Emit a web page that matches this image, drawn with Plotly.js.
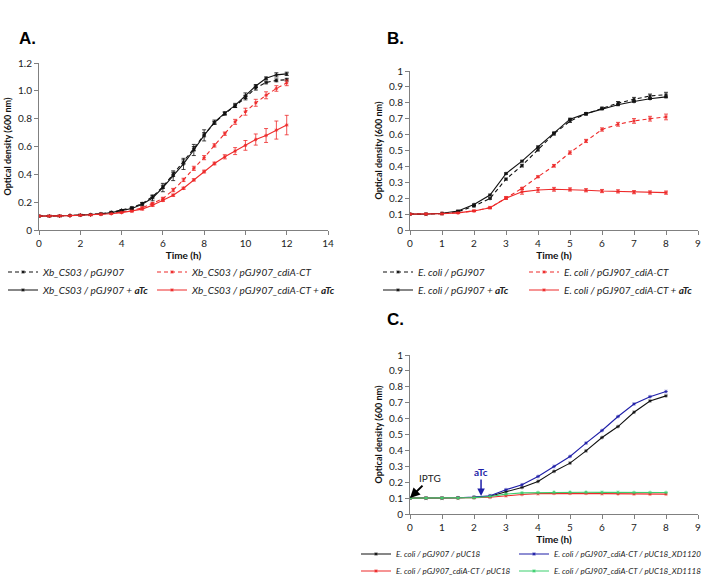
<!DOCTYPE html>
<html><head><meta charset="utf-8">
<script src="https://cdn.plot.ly/plotly-3.0.1.min.js"></script>
<style>html,body{margin:0;padding:0;background:#fff}#chart{width:707px;height:581px}</style>
</head><body><div id="chart"></div>
<script>
// ---------- Panel A data ----------
const timeA = [0,0.5,1,1.5,2,2.5,3,3.5,4,4.5,5,5.5,6,6.5,7,7.5,8,8.5,9,9.5,10,10.5,11,11.5,12];
const aBlackDash = [0.100,0.100,0.101,0.104,0.107,0.110,0.117,0.128,0.142,0.160,0.190,0.240,0.310,0.400,0.490,0.585,0.685,0.770,0.835,0.890,0.950,1.020,1.060,1.075,1.080];
const aBlackSolid = [0.100,0.100,0.101,0.104,0.107,0.110,0.115,0.125,0.140,0.155,0.185,0.230,0.305,0.390,0.475,0.575,0.680,0.775,0.840,0.895,0.965,1.035,1.090,1.115,1.122];
const aRedDash = [0.100,0.100,0.101,0.103,0.106,0.109,0.114,0.120,0.130,0.140,0.160,0.190,0.225,0.287,0.360,0.443,0.520,0.608,0.692,0.777,0.850,0.914,0.968,1.017,1.057];
const aRedSolid = [0.100,0.100,0.101,0.103,0.106,0.108,0.112,0.117,0.125,0.135,0.150,0.178,0.213,0.250,0.300,0.360,0.420,0.478,0.526,0.567,0.608,0.650,0.679,0.718,0.754];
const aErrBlackDash = [0,0,0,0,0,0,0.003,0.004,0.005,0.006,0.008,0.010,0.012,0.015,0.015,0.015,0.015,0.010,0.010,0.010,0.015,0.015,0.010,0.010,0.010];
const aErrBlackSolid = [0,0,0,0,0,0,0.003,0.004,0.005,0.008,0.010,0.020,0.030,0.035,0.040,0.040,0.040,0.015,0.010,0.015,0.020,0.010,0.010,0.015,0.012];
const aErrRedDash = [0,0,0,0,0,0,0.003,0.003,0.004,0.005,0.006,0.008,0.010,0.012,0.012,0.015,0.015,0.012,0.012,0.018,0.025,0.025,0.025,0.020,0.020];
const aErrRedSolid = [0,0,0,0,0,0,0.003,0.003,0.004,0.005,0.006,0.008,0.008,0.008,0.008,0.008,0.010,0.010,0.015,0.025,0.035,0.040,0.050,0.065,0.070];
const aNames = ['<i>Xb_CS03 / pGJ907</i>','<i>Xb_CS03 / pGJ907_cdiA-CT</i>','<i>Xb_CS03 / pGJ907 + <b>aTc</b></i>','<i>Xb_CS03 / pGJ907_cdiA-CT + <b>aTc</b></i>'];
const aYTickVals = [0,0.2,0.4,0.6,0.8,1.0,1.2];
const aYTickText = ['0','0.2','0.4','0.6','0.8','1.0','1.2'];
const aXTickVals = [0,2,4,6,8,10,12,14];

// ---------- Panel B data ----------
const timeB = [0,0.5,1,1.5,2,2.5,3,3.5,4,4.5,5,5.5,6,6.5,7,7.5,8];
const bBlackDash = [0.100,0.100,0.103,0.115,0.150,0.198,0.320,0.405,0.505,0.605,0.685,0.730,0.765,0.798,0.822,0.843,0.851];
const bBlackSolid = [0.100,0.100,0.105,0.120,0.160,0.220,0.355,0.433,0.523,0.611,0.697,0.732,0.762,0.788,0.808,0.826,0.837];
const bRedDash = [0.100,0.100,0.103,0.108,0.120,0.140,0.203,0.262,0.335,0.404,0.487,0.560,0.632,0.665,0.686,0.700,0.711];
const bRedSolid = [0.100,0.100,0.103,0.108,0.120,0.140,0.200,0.240,0.252,0.256,0.255,0.250,0.245,0.243,0.238,0.236,0.235];
const bErrBlackDash = [0,0,0,0.003,0.004,0.005,0.006,0.008,0.008,0.008,0.008,0.008,0.008,0.010,0.012,0.012,0.015];
const bErrBlackSolid = [0,0,0,0.003,0.004,0.005,0.005,0.005,0.005,0.005,0.005,0.005,0.005,0.005,0.005,0.005,0.005];
const bErrRedDash = [0,0,0,0,0.003,0.004,0.006,0.006,0.006,0.008,0.010,0.010,0.010,0.012,0.015,0.015,0.018];
const bErrRedSolid = [0,0,0,0,0.003,0.004,0.008,0.015,0.015,0.012,0.010,0.010,0.010,0.010,0.010,0.010,0.010];
const bNames = ['<i>E. coli / pGJ907</i>','<i>E. coli / pGJ907_cdiA-CT</i>','<i>E. coli / pGJ907 + <b>aTc</b></i>','<i>E. coli / pGJ907_cdiA-CT + <b>aTc</b></i>'];

// ---------- Panel C data ----------
const timeC = [0,0.5,1,1.5,2,2.5,3,3.5,4,4.5,5,5.5,6,6.5,7,7.5,8];
const cBlack = [0.100,0.100,0.100,0.102,0.105,0.112,0.140,0.167,0.205,0.268,0.320,0.397,0.481,0.550,0.640,0.711,0.743];
const cBlue = [0.100,0.100,0.100,0.102,0.106,0.115,0.153,0.184,0.236,0.299,0.362,0.446,0.525,0.613,0.692,0.738,0.770];
const cRed = [0.100,0.100,0.100,0.100,0.102,0.105,0.115,0.123,0.128,0.130,0.130,0.130,0.128,0.127,0.126,0.125,0.125];
const cGreen = [0.100,0.100,0.100,0.100,0.103,0.110,0.125,0.133,0.135,0.137,0.137,0.137,0.136,0.136,0.135,0.135,0.135];
const cNames = ['<i>E. coli / pGJ907 / pUC18</i>','<i>E. coli / pGJ907_cdiA-CT / pUC18_XD1120</i>','<i>E. coli / pGJ907_cdiA-CT / pUC18</i>','<i>E. coli / pGJ907_cdiA-CT / pUC18_XD1118</i>'];
const bcXTickVals = [0,1,2,3,4,5,6,7,8,9];
const bcYTickVals = [0,0.1,0.2,0.3,0.4,0.5,0.6,0.7,0.8,0.9,1];
const bcYTickText = ['0','0.1','0.2','0.3','0.4','0.5','0.6','0.7','0.8','0.9','1'];

const BLACK = '#111111', RED = '#ee2a2a', BLUE = '#1f1fa8', GREEN = '#3ccf6e';
const DASH = '4px,3px';

function tr(x, y, err, name, color, dash, xa, ya, leg) {
  const t = {
    x: x, y: y, name: name, type: 'scatter', mode: 'lines+markers',
    xaxis: xa, yaxis: ya, legend: leg,
    line: {color: color, width: 1.1, dash: dash},
    marker: {symbol: 'asterisk-open', size: 3, color: color, line: {color: color, width: 0.8}}
  };
  if (err) t.error_y = {type: 'data', array: err, visible: true, color: color, thickness: 0.8, width: 2};
  return t;
}

const data = [
  tr(timeA, aBlackDash, aErrBlackDash, aNames[0], BLACK, DASH, 'x', 'y', 'legend'),
  tr(timeA, aRedDash, aErrRedDash, aNames[1], RED, DASH, 'x', 'y', 'legend2'),
  tr(timeA, aBlackSolid, aErrBlackSolid, aNames[2], BLACK, 'solid', 'x', 'y', 'legend3'),
  tr(timeA, aRedSolid, aErrRedSolid, aNames[3], RED, 'solid', 'x', 'y', 'legend4'),
  tr(timeB, bBlackDash, bErrBlackDash, bNames[0], BLACK, DASH, 'x2', 'y2', 'legend5'),
  tr(timeB, bRedDash, bErrRedDash, bNames[1], RED, DASH, 'x2', 'y2', 'legend6'),
  tr(timeB, bBlackSolid, bErrBlackSolid, bNames[2], BLACK, 'solid', 'x2', 'y2', 'legend7'),
  tr(timeB, bRedSolid, bErrRedSolid, bNames[3], RED, 'solid', 'x2', 'y2', 'legend8'),
  tr(timeC, cBlack, null, cNames[0], BLACK, 'solid', 'x3', 'y3', 'legend9'),
  tr(timeC, cBlue, null, cNames[1], BLUE, 'solid', 'x3', 'y3', 'legend10'),
  tr(timeC, cRed, null, cNames[2], RED, 'solid', 'x3', 'y3', 'legend11'),
  tr(timeC, cGreen, null, cNames[3], GREEN, 'solid', 'x3', 'y3', 'legend12')
];

const W = 707, H = 581;
const px = v => v / W, py = v => 1 - v / H;
const FONT = 'Lato, "Open Sans", sans-serif';

function xax(domain, range, tickvals, anchor) {
  return {domain: domain, range: range, tickvals: tickvals, anchor: anchor,
    showgrid: false, zeroline: false, showline: true, linecolor: '#808080', linewidth: 1,
    ticks: 'outside', ticklen: 4, tickcolor: '#808080', tickfont: {size: 10, color: '#222', family: FONT},
    title: {text: '<b>Time (h)</b>', font: {size: 10, color: '#111', family: FONT}, standoff: 2}};
}
function yax(domain, range, tickvals, ticktext, anchor) {
  return {domain: domain, range: range, tickvals: tickvals, ticktext: ticktext, anchor: anchor,
    showgrid: false, zeroline: false, showline: true, linecolor: '#808080', linewidth: 1,
    ticks: 'outside', ticklen: 4, tickcolor: '#808080', tickfont: {size: 10, color: '#222', family: FONT},
    title: {text: '<b>Optical density (600 nm)</b>', font: {size: 9, color: '#111', family: FONT}, standoff: 4}};
}
function leg(xPix, yPix, size, xanchor) {
  return {x: px(xPix), y: py(yPix), xanchor: xanchor || 'left', yanchor: 'middle', orientation: 'h',
    itemwidth: 30, bgcolor: 'rgba(0,0,0,0)', borderwidth: 0,
    font: {size: size || 10, color: '#222', family: FONT}};
}

const layout = {
  width: W, height: H, margin: {l: 0, r: 0, t: 0, b: 0, autoexpand: false},
  paper_bgcolor: '#fff', plot_bgcolor: '#fff', showlegend: true,
  xaxis: xax([px(39), px(328)], [0, 14], aXTickVals, 'y'),
  yaxis: yax([py(230), py(63)], [0, 1.2], aYTickVals, aYTickText, 'x'),
  xaxis2: xax([px(410), px(698)], [0, 9], bcXTickVals, 'y2'),
  yaxis2: yax([py(230), py(71)], [0, 1], bcYTickVals, bcYTickText, 'x2'),
  xaxis3: xax([px(410), px(698)], [0, 9], bcXTickVals, 'y3'),
  yaxis3: yax([py(514), py(355)], [0, 1], bcYTickVals, bcYTickText, 'x3'),
  legend: leg(3, 272),
  legend2: leg(152, 272),
  legend3: leg(3, 290),
  legend4: leg(152, 290),
  legend5: leg(378, 272),
  legend6: leg(524, 272),
  legend7: leg(378, 290),
  legend8: leg(524, 290),
  legend9: leg(356, 554, 8),
  legend10: leg(707, 554, 8, 'right'),
  legend11: leg(356, 571, 8),
  legend12: leg(707, 571, 8, 'right'),
  annotations: [
    {text: '<b>A.</b>', xref: 'paper', yref: 'paper', x: px(17), y: py(38), xanchor: 'left', yanchor: 'middle', showarrow: false, font: {size: 17, color: '#000', family: 'Liberation Sans, Arial, sans-serif'}},
    {text: '<b>B.</b>', xref: 'paper', yref: 'paper', x: px(385), y: py(38), xanchor: 'left', yanchor: 'middle', showarrow: false, font: {size: 17, color: '#000', family: 'Liberation Sans, Arial, sans-serif'}},
    {text: '<b>C.</b>', xref: 'paper', yref: 'paper', x: px(385), y: py(320), xanchor: 'left', yanchor: 'middle', showarrow: false, font: {size: 17, color: '#000', family: 'Liberation Sans, Arial, sans-serif'}},
    {text: 'IPTG', xref: 'x3', yref: 'y3', x: 0, y: 0.1, ax: 20, ay: -20, showarrow: true, arrowhead: 2, arrowsize: 1, arrowwidth: 2, arrowcolor: '#000', font: {size: 10, color: '#222', family: FONT}},
    {text: '<b>aTc</b>', xref: 'x3', yref: 'y3', x: 2.22, y: 0.113, ax: 0, ay: -24, showarrow: true, arrowhead: 2, arrowsize: 1, arrowwidth: 1.5, arrowcolor: BLUE, font: {size: 10, color: BLUE, family: FONT}}
  ]
};

Plotly.newPlot('chart', data, layout, {displayModeBar: false, staticPlot: true});
</script>
</body></html>
